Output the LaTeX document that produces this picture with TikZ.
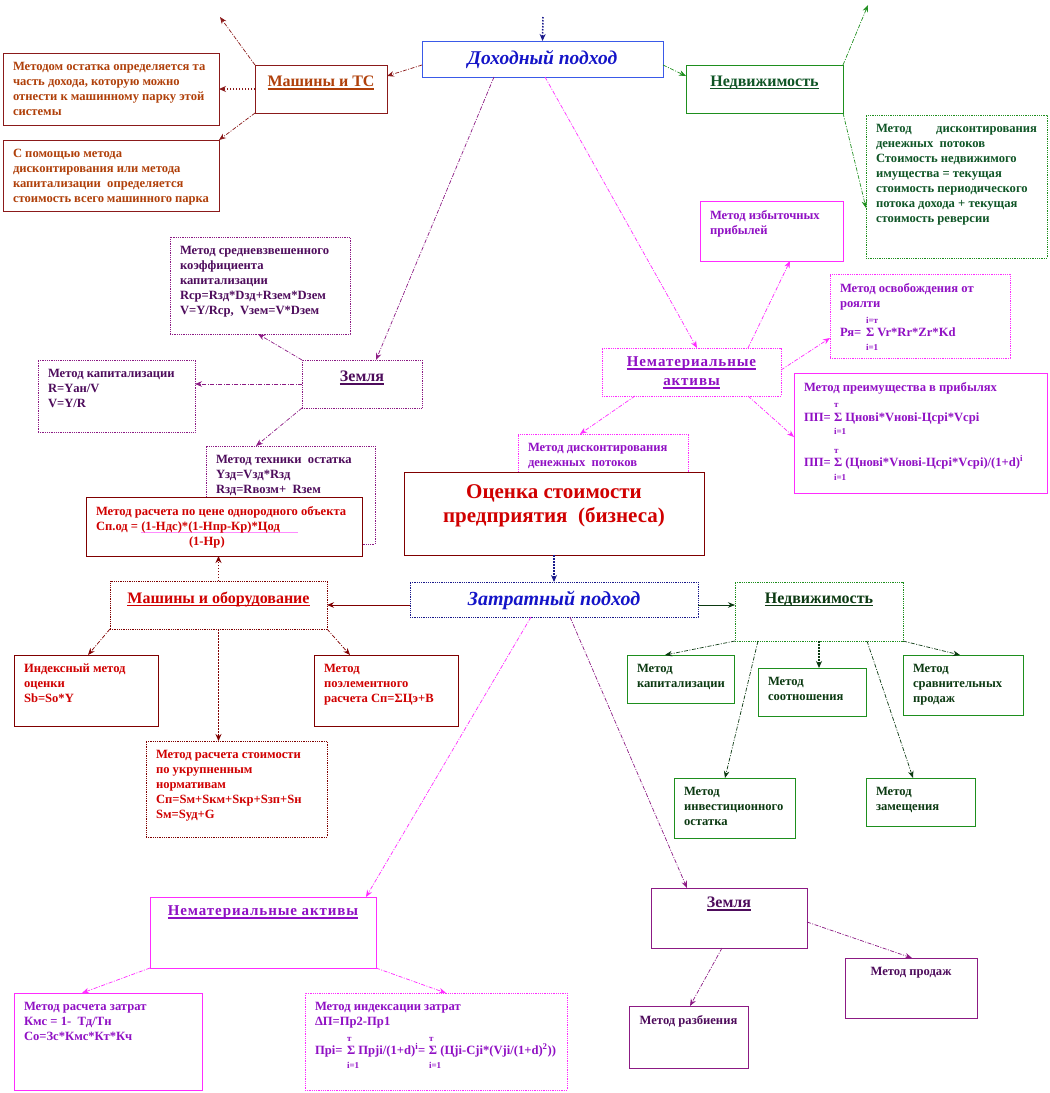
\documentclass[tikz,border=0pt]{standalone}
\usepackage{fontspec}
\setmainfont{Liberation Serif}
\usetikzlibrary{arrows,arrows.meta,calc}

\definecolor{brn}{HTML}{8B1A1A}
\definecolor{brntxt}{HTML}{B0400A}
\definecolor{bluln}{HTML}{3A5AE8}
\definecolor{blutxt}{HTML}{1414C8}
\definecolor{dkblu}{HTML}{1A1A8C}
\definecolor{grn}{HTML}{1E8F1E}
\definecolor{grntxt}{HTML}{0F5526}
\definecolor{dkgrn}{HTML}{0C3A12}
\definecolor{mag}{HTML}{FF2CFF}
\definecolor{magtxt}{HTML}{9010C4}
\definecolor{purp}{HTML}{8C1A84}
\definecolor{purtxt}{HTML}{4E0C5C}
\definecolor{dred}{HTML}{800000}
\definecolor{redtxt}{HTML}{D00000}

\newcommand{\tbox}[3]{\parbox[t][\dimexpr#2pt-18pt\relax][t]{\dimexpr#1pt-20pt\relax}{#3}}
\newcommand{\sm}[1]{{\fontsize{9}{10}\selectfont #1}}
\newcommand{\hdln}[1]{\leavevmode\setbox0\hbox{#1}\rlap{\rule[-3pt]{\wd0}{1.5pt}}\box0}

\begin{document}
\begin{tikzpicture}[x=1pt, y=-1pt,
  blk/.style={
    draw=#1, fill=white, anchor=north west, inner xsep=10pt, inner ysep=9pt,
    outer sep=0pt, line width=0.8pt, font=\bfseries\fontsize{12.6}{15}\selectfont
  },
  dblk/.style={blk=#1, densely dotted},
  ln/.style={->, >={Stealth[length=7pt,width=5.5pt]}, draw=#1, line width=0.7pt, dash pattern=on 4pt off 1.5pt on 1pt off 1.5pt},
  dt/.style={->, >={Stealth[length=7pt,width=6pt]}, draw=#1, line width=1.5pt, dash pattern=on 1.5pt off 1.5pt},
  sl/.style={->, >={Stealth[length=7pt,width=5.5pt]}, draw=#1, line width=0.8pt}
]
\fill[white] (0,0) rectangle (1050,1093);
\useasboundingbox (0,0) rectangle (1050,1093);

\node[blk=bluln, text=blutxt] (dohod) at (422,41) {\tbox{241}{36}{\centering\fontsize{19.5}{20}\selectfont\itshape Доходный подход}};
\node[blk=brn, text=brntxt] (mashts) at (255,65) {\tbox{132}{48}{\centering\vspace*{2pt}\fontsize{16}{18}\selectfont\hdln{Машины и ТС}}};
\node[blk=brn, text=brntxt] (ostatok) at (3,53) {\tbox{216}{72}{Методом остатка определяется та\\ часть дохода, которую можно\\ отнести к машинному парку этой\\ системы}};
\node[blk=brn, text=brntxt] (diskmp) at (3,140) {\tbox{216}{71}{С помощью метода\\ дисконтирования или метода\\ капитализации\ \ определяется\\ стоимость всего машинного парка}};
\node[blk=grn, text=grntxt] (nedv1) at (686,65) {\tbox{157}{48}{\centering\vspace*{2pt}\fontsize{16}{18}\selectfont\hdln{Недвижимость}}};
\node[dblk=grn, text=grntxt] (nedvtxt) at (866,115) {\tbox{181}{143}{Метод\hfill дисконтирования\\ денежных\ \ потоков\\ Стоимость недвижимого\\ имущества = текущая\\ стоимость периодического\\ потока дохода + текущая\\ стоимость реверсии}};
\node[blk=mag, text=magtxt] (izbyt) at (700,201) {\tbox{143}{60}{Метод избыточных\\ прибылей}};
\node[dblk=mag, text=magtxt] (nemat1) at (602,348) {\tbox{179}{48}{\centering\fontsize{15}{19}\selectfont\addfontfeature{LetterSpace=6}\hdln{Нематериальные}\\ \hdln{активы}}};
\node[dblk=mag, text=magtxt] (royalty) at (830,274) {\tbox{180}{84}{Метод освобождения от\\ роялти\\[1pt]
  \hspace*{26pt}\sm{i=т}\\[-2pt]
  \makebox[26pt][l]{Ря=}Σ Vr*Rr*Zr*Kd\\[-1pt]
  \hspace*{26pt}\sm{i=1}}};
\node[blk=mag, text=magtxt] (preim) at (794,373) {\tbox{253}{120}{Метод преимущества в прибылях\\[1pt]
  \hspace*{30pt}\sm{т}\\[-1pt]
  \makebox[30pt][l]{ПП=}Σ Цновi*Vновi-Цсрi*Vсрi\\[-2pt]
  \hspace*{30pt}\sm{i=1}\\[4pt]
  \hspace*{30pt}\sm{т}\\[-2pt]
  \makebox[30pt][l]{ПП=}Σ (Цновi*Vновi-Цсрi*Vсрi)/(1+d)\textsuperscript{i}\\[-1pt]
  \hspace*{30pt}\sm{i=1}}};
\node[dblk=mag, text=magtxt] (diskdp) at (518,434) {\tbox{170}{41}{Метод дисконтирования\\ денежных\ \ потоков}};
\node[blk=dred, text=redtxt, line width=1pt] (ocenka) at (404,472) {\tbox{300}{83}{\centering\vspace*{4pt}\fontsize{21}{24}\selectfont Оценка стоимости\\ предприятия\ \ (бизнеса)}};
\node[dblk=dkblu, text=blutxt] (zatrat) at (410,582) {\tbox{288}{35}{\centering\fontsize{20}{20}\selectfont\itshape Затратный подход}};

\node[dblk=purp, text=purtxt] (srvzv) at (170,237) {\tbox{180}{97}{Метод средневзвешенного\\ коэффициента\\ капитализации\\ Rср=Rзд*Dзд+Rзем*Dзем\\ V=Y/Rср,\ \ Vзем=V*Dзем}};
\node[dblk=purp, text=purtxt] (zem1) at (302,360) {\tbox{120}{48}{\centering\vspace*{2pt}\fontsize{16}{18}\selectfont\hdln{Земля}}};
\node[dblk=purp, text=purtxt] (kap1) at (38,360) {\tbox{157}{72}{Метод капитализации\\ R=Yан/V\\ V=Y/R}};
\node[dblk=purp, text=purtxt] (tehost) at (206,446) {\tbox{169}{98}{Метод техники\ \ остатка\\ Yзд=Vзд*Rзд\\ Rзд=Rвозм+\ \ Rзем}};
\node[blk=dred, text=redtxt] (odnor) at (86,497) {\tbox{276}{59}{Метод расчета по цене однородного объекта\\
  Сп.од = \rlap{\color{mag!55}\rule[-2.5pt]{157pt}{0.8pt}}(1-Ндс)*(1-Нпр-Кр)*Цод\\
  \hspace*{93pt}(1-Нр)}};

\node[dblk=dred, text=redtxt] (mashob) at (110,581) {\tbox{217}{48}{\centering\vspace*{2pt}\fontsize{16}{18}\selectfont\hdln{Машины и оборудование}}};
\node[blk=dred, text=redtxt] (index) at (14,655) {\tbox{144}{71}{Индексный метод\\ оценки\\ Sb=So*Y}};
\node[blk=dred, text=redtxt] (poelem) at (314,655) {\tbox{144}{71}{Метод\\ поэлементного\\ расчета Сп=ΣЦэ+В}};
\node[dblk=dred, text=redtxt] (ukrup) at (146,741) {\tbox{181}{96}{Метод расчета стоимости\\ по укрупненным\\ нормативам\\ Сп=Sм+Sкм+Sкр+Sзп+Sн\\ Sм=Sуд+G}};

\node[dblk=grn, text=dkgrn] (nedv2) at (735,582) {\tbox{168}{59}{\centering\vspace*{2pt}\fontsize{16}{18}\selectfont\hdln{Недвижимость}}};
\node[blk=grn, text=dkgrn] (kap2) at (627,655) {\tbox{107}{48}{Метод\\ капитализации}};
\node[blk=grn, text=dkgrn] (sootn) at (758,668) {\tbox{108}{48}{Метод\\ соотношения}};
\node[blk=grn, text=dkgrn] (sravn) at (903,655) {\tbox{120}{60}{Метод\\ сравнительных\\ продаж}};
\node[blk=grn, text=dkgrn] (invest) at (674,778) {\tbox{121}{60}{Метод\\ инвестиционного\\ остатка}};
\node[blk=grn, text=dkgrn] (zamesh) at (866,778) {\tbox{109}{48}{Метод\\ замещения}};

\node[blk=mag, text=magtxt] (nemat2) at (150,897) {\tbox{226}{71}{\centering\fontsize{15}{18}\selectfont\addfontfeature{LetterSpace=6}\hdln{Нематериальные активы}}};
\node[blk=mag, text=magtxt] (zatr) at (14,993) {\tbox{188}{97}{Метод расчета затрат\\ Кмс = 1-\ \ Тд/Тн\\ Со=Зс*Кмс*Кт*Кч}};
\node[dblk=mag, text=magtxt] (indzatr) at (305,993) {\tbox{262}{97}{Метод индексации затрат\\ ΔП=Пр2-Пр1\\[1pt]
  \hspace*{32pt}\makebox[82pt][l]{\sm{т}}\sm{т}\\[-2pt]
  \mbox{\makebox[32pt][l]{Прi=}\makebox[82pt][l]{Σ Прji/(1+d)\textsuperscript{i}=}Σ (Цji-Cji*(Vji/(1+d)\textsuperscript{2}))}\\[-1pt]
  \hspace*{32pt}\makebox[82pt][l]{\sm{i=1}}\sm{i=1}}};

\node[blk=purp, text=purtxt] (zem2) at (651,888) {\tbox{156}{60}{\centering\fontsize{16}{18}\selectfont\hdln{Земля}}};
\node[blk=purp, text=purtxt] (razb) at (629,1006) {\tbox{119}{62}{\centering Метод разбиения}};
\node[blk=purp, text=purtxt] (prodazh) at (845,958) {\tbox{132}{60}{\centering Метод продаж}};

\coordinate (dtop) at (543,17);
\coordinate (mtop) at (220,17);
\coordinate (ntop) at (868,5);

\draw[dt=dkblu] (dtop) -- (dohod.north);
\draw[ln=brn] ([yshift=-24pt]dohod.north west) -- ([yshift=-11pt]mashts.north east);
\draw[ln=brn] (mashts.north west) -- (mtop);
\draw[dt=brn] (mashts.west) -- (mashts.west -| ostatok.east);
\draw[ln=brn] (mashts.south west) -- (diskmp.north east);
\draw[ln=grn] ([yshift=-24pt]dohod.north east) -- ([yshift=-11pt]nedv1.north west);
\draw[ln=grn] (nedv1.north east) -- (ntop);
\draw[ln=grn] (nedv1.south east) -- ([yshift=-93pt]nedvtxt.north west);
\draw[ln=mag] ([xshift=123pt]dohod.south west) -- ([xshift=95pt]nemat1.north west);
\draw[ln=mag] ([xshift=146pt]nemat1.north west) -- ([xshift=90pt]izbyt.south west);
\draw[ln=mag] ([yshift=-22pt]nemat1.north east) -- ([yshift=-64pt]royalty.north west);
\draw[ln=mag] ([xshift=146pt]nemat1.south west) -- ([yshift=-64pt]preim.north west);
\draw[ln=mag] ([xshift=33pt]nemat1.south west) -- ([xshift=62pt]diskdp.north west);
\draw[ln=purp] ([xshift=72pt]dohod.south west) -- ([xshift=74pt]zem1.north west);
\draw[ln=purp] (zem1.north west) -- ([xshift=88pt]srvzv.south west);
\draw[ln=purp] (zem1.west) -- (zem1.west -| kap1.east);
\draw[ln=purp] (zem1.south west) -- ([xshift=50pt]tehost.north west);

\draw[dt=dkblu] (ocenka.south) -- (zatrat.north);
\draw[sl=dred] (zatrat.west |- mashob.east) -- (mashob.east);
\draw[dt=dred] (mashob.north) -- (mashob.north |- odnor.south);
\draw[ln=dred] (mashob.south west) -- ([xshift=74pt]index.north west);
\draw[ln=dred] (mashob.south east) -- ([xshift=36pt]poelem.north west);
\draw[dt=dred] (mashob.south) -- (mashob.south |- ukrup.north);
\draw[sl=dkgrn] (zatrat.east |- mashob.east) -- (nedv2.west |- mashob.east);
\draw[ln=dkgrn] (nedv2.south west) -- ([xshift=38pt]kap2.north west);
\draw[dt=dkgrn] ([xshift=84pt]nedv2.south west) -- ([xshift=61pt]sootn.north west);
\draw[ln=dkgrn] (nedv2.south east) -- ([xshift=57pt]sravn.north west);
\draw[ln=dkgrn] ([xshift=23pt]nedv2.south west) -- ([xshift=51pt]invest.north west);
\draw[ln=dkgrn] ([xshift=132pt]nedv2.south west) -- ([xshift=47pt]zamesh.north west);
\draw[ln=mag] ([xshift=121pt]zatrat.south west) -- ([xshift=216pt]nemat2.north west);
\draw[ln=purp] ([xshift=160pt]zatrat.south west) -- ([xshift=36pt]zem2.north west);
\draw[ln=mag] (nemat2.south west) -- ([xshift=68pt]zatr.north west);
\draw[ln=mag] (nemat2.south east) -- ([xshift=141pt]indzatr.north west);
\draw[ln=purp] ([xshift=71pt]zem2.south west) -- ([xshift=61pt]razb.north west);
\draw[ln=purp] ([yshift=-34pt]zem2.north east) -- ([xshift=67pt]prodazh.north west);

\end{tikzpicture}
\end{document}
